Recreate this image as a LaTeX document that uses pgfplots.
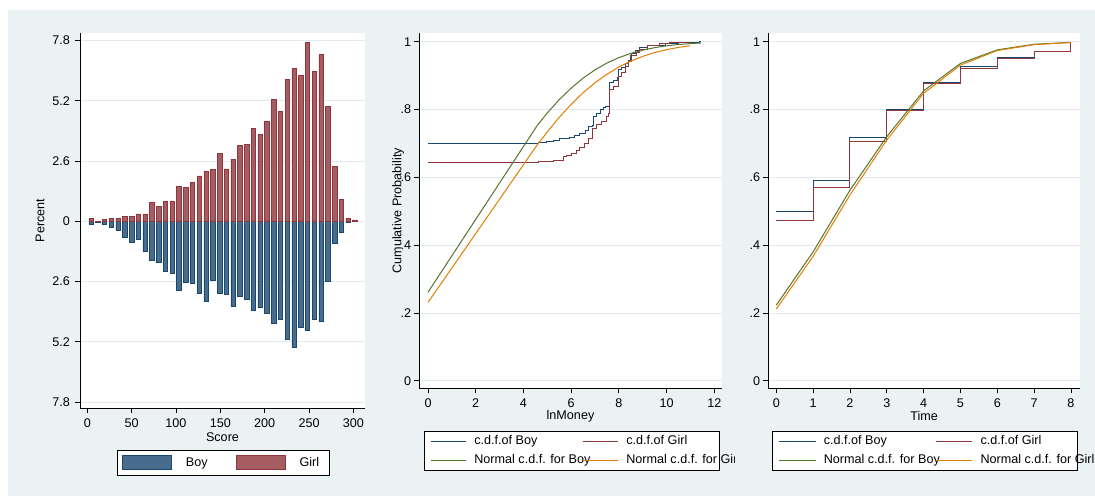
\documentclass[border=0pt]{standalone}
\usepackage{pgfplots}
\pgfplotsset{compat=1.18}
\usepackage{fontspec}
\setmainfont{Liberation Sans}
\definecolor{bgc}{RGB}{234,242,243}
\definecolor{gridc}{RGB}{226,234,237}
\definecolor{navy}{RGB}{26,71,111}
\definecolor{maroon}{RGB}{144,53,59}
\definecolor{fgreen}{RGB}{85,117,47}
\definecolor{dkorange}{RGB}{227,126,0}
\definecolor{boyfill}{RGB}{72,108,140}
\definecolor{girlfill}{RGB}{166,93,98}

\pgfplotsset{
 statastyle/.style={
  scale only axis, anchor=south west,
  font=\fontsize{12.6}{15}\selectfont,
  /pgf/number format/assume math mode=true,
  axis x line*=bottom, axis y line*=left,
  axis line style={-, black, line width=0.8pt},
  tick align=outside, major tick length=5pt,
  every tick/.style={black, line width=0.8pt},
  ymajorgrids, grid style={gridc, line width=0.8pt},
  axis background/.style={fill=white},
  xticklabel style={anchor=north, inner sep=0pt},
  yticklabel style={anchor=east, inner sep=0pt},
  legend cell align=left,
 }
}

\pgfplotstableread{
x girl boy
4.20 0.13 -0.12
11.83 0.02 -0.04
19.46 0.07 -0.14
27.09 0.12 -0.26
34.72 0.12 -0.40
42.35 0.20 -0.68
49.98 0.20 -0.89
57.61 0.32 -0.79
65.24 0.32 -1.28
72.87 0.81 -1.67
80.50 0.63 -1.78
88.13 0.85 -2.16
95.76 0.88 -2.24
103.39 1.53 -2.99
111.02 1.47 -2.62
118.65 1.67 -2.66
126.28 1.96 -3.12
133.91 2.16 -3.45
141.54 2.24 -2.55
149.17 2.94 -3.11
156.80 2.26 -3.15
164.43 2.68 -3.68
172.06 3.28 -3.24
179.69 3.31 -3.35
187.32 4.01 -3.86
194.95 3.74 -3.73
202.58 4.33 -3.97
210.21 5.28 -4.39
217.84 4.76 -4.24
225.47 6.12 -5.09
233.10 6.59 -5.42
240.73 6.30 -4.59
248.36 7.73 -4.72
255.99 6.46 -4.24
263.62 7.19 -4.33
271.25 4.95 -2.58
278.88 2.36 -0.96
286.51 0.94 -0.46
294.14 0.12 -0.05
301.77 0.06 0.00
}\scoredata

\begin{document}
\begin{tikzpicture}[x=1pt,y=1pt]
\useasboundingbox (0,0) rectangle (1095,496);
\fill[white] (0,0) rectangle (1095,496);
\fill[bgc] (8,0) rectangle (1095,486);

% ---------- Panel 1 ----------
\begin{axis}[statastyle,
  at={(80pt,88pt)}, width=285pt, height=375pt,
  xmin=-8.23, xmax=313.1, ymin=-8.06, ymax=8.13,
  xtick={0,50,...,300},
  ytick={-7.8,-5.2,-2.6,0,2.6,5.2,7.8},
  yticklabels={7.8,5.2,2.6,0,2.6,5.2,7.8},
  xticklabel shift=5.5pt, yticklabel shift=5pt,
  xlabel={Score}, ylabel={Percent},
  xlabel style={at={(axis description cs:0.5,-0.0773)}, anchor=center},
  ylabel style={at={(axis description cs:-0.1404,0.5)}, anchor=center},
  legend columns=2,
  legend image code/.code={\draw[#1] (0pt,-7pt) rectangle (49pt,7pt); \path (63pt,0pt);},
  legend style={at={(axis description cs:0.1298,-0.112)}, anchor=north west,
    draw=black, line width=0.8pt, inner xsep=5pt, inner ysep=5pt,
    column sep=0pt, nodes={inner sep=0pt}},
]
\addplot[ybar, bar width=5, bar shift=0pt, fill=boyfill, draw=navy, line width=0.6pt] table[x=x,y=boy] {\scoredata};
\addlegendentry{\makebox[50pt][l]{Boy}}
\addplot[ybar, bar width=5, bar shift=0pt, fill=girlfill, draw=maroon, line width=0.6pt] table[x=x,y=girl] {\scoredata};
\addlegendentry{\makebox[25pt][l]{Girl}}
\end{axis}

% ---------- Panel 2 ----------
\begin{scope}
\clip (0,0) rectangle (734,496);
\begin{axis}[statastyle,
  at={(419.3pt,107.7pt)}, width=302.4pt, height=355pt,
  xmin=-0.365, xmax=12.31, ymin=-0.0224, ymax=1.0248,
  xtick={0,2,...,12},
  ytick={0,0.2,0.4,0.6,0.8,1},
  yticklabels={0,.2,.4,.6,.8,1},
  xticklabel shift=5.5pt, yticklabel shift=3pt,
  xlabel={lnMoney}, ylabel={Cumulative Probability},
  xlabel style={at={(axis description cs:0.5,-0.080)}, anchor=center},
  ylabel style={at={(axis description cs:-0.0704,0.5)}, anchor=center},
  legend columns=2,
  legend image code/.code={\draw[#1, line width=1pt] (0pt,0pt) -- (35pt,0pt); \path (43pt,0pt);},
  legend style={at={(axis description cs:0.0155,-0.1194)}, anchor=north west,
    draw=black, line width=0.8pt, inner xsep=6pt, inner ysep=4pt,
    column sep=0pt, row sep=7pt, nodes={inner sep=0pt, text height=9pt, text depth=3pt}},
]
\addplot[const plot, navy, line width=1pt] coordinates {
(0,0.701) (4.62,0.704) (4.97,0.706) (5.25,0.708) (5.53,0.714) (5.95,0.718) (6.16,0.722)
(6.37,0.729) (6.58,0.739) (6.72,0.749) (6.89,0.754) (6.93,0.779) (7.07,0.789) (7.21,0.799)
(7.35,0.806) (7.45,0.810) (7.59,0.879) (7.77,0.887) (7.94,0.894) (7.98,0.917) (8.12,0.923)
(8.26,0.936) (8.40,0.946) (8.49,0.958) (8.54,0.966) (8.68,0.973) (8.88,0.983) (9.19,0.990)
(9.94,0.995) (10.5,0.997) (11.40,1.0) (11.44,1.0)};
\addlegendentry{\makebox[108pt][l]{c.d.f.of Boy}}
\addplot[const plot, maroon, line width=1pt] coordinates {
(0,0.645) (4.62,0.647) (5.25,0.651) (5.67,0.661) (5.81,0.663) (6.02,0.671) (6.23,0.679)
(6.37,0.689) (6.54,0.700) (6.72,0.715) (6.89,0.745) (7.07,0.756) (7.28,0.764) (7.49,0.779)
(7.55,0.787) (7.59,0.860) (7.77,0.867) (7.98,0.897) (8.12,0.909) (8.26,0.926) (8.40,0.941)
(8.54,0.958) (8.72,0.968) (8.88,0.977) (9.19,0.990) (9.72,0.995) (10.14,0.998) (10.98,1.0)};
\addlegendentry{\makebox[87pt][l]{c.d.f.of Girl}}
\addplot[fgreen, line width=1pt] coordinates {
(0,0.261) (4.56,0.751) (5,0.790) (5.5,0.829) (6,0.863) (6.5,0.8925) (7,0.917) (7.5,0.937)
(8,0.953) (8.5,0.9655) (9,0.975) (9.5,0.9825) (10,0.9879) (10.5,0.9918) (11,0.9945) (11.44,0.9962)};
\addlegendentry{\makebox[108pt][l]{Normal c.d.f. for Boy}}
\addplot[dkorange, line width=1pt] coordinates {
(0,0.231) (4.56,0.694) (5,0.734) (5.5,0.777) (6,0.815) (6.5,0.8497) (7,0.879) (7.5,0.904)
(8,0.9255) (8.5,0.9428) (9,0.9568) (9.5,0.968) (10,0.9765) (10.5,0.9832) (10.98,0.9879)};
\addlegendentry{\makebox[87pt][l]{Normal c.d.f. for Girl}}
\end{axis}
\end{scope}

% ---------- Panel 3 ----------
\begin{axis}[statastyle,
  at={(768.3pt,107.7pt)}, width=311.7pt, height=355pt,
  xmin=-0.217, xmax=8.245, ymin=-0.0224, ymax=1.0248,
  xtick={0,1,...,8},
  ytick={0,0.2,0.4,0.6,0.8,1},
  yticklabels={0,.2,.4,.6,.8,1},
  xticklabel shift=5.5pt, yticklabel shift=3pt,
  xlabel={Time},
  xlabel style={at={(axis description cs:0.5,-0.078)}, anchor=center},
  legend columns=2,
  legend image code/.code={\draw[#1, line width=1pt] (0pt,0pt) -- (36.7pt,0pt); \path (44.4pt,0pt);},
  legend style={at={(axis description cs:0.0119,-0.1194)}, anchor=north west,
    draw=black, line width=0.8pt, inner xsep=6pt, inner ysep=4pt,
    column sep=0pt, row sep=7pt, nodes={inner sep=0pt, text height=9pt, text depth=3pt}},
]
\addplot[const plot, navy, line width=1pt] coordinates {
(0,0.498) (1,0.592) (2,0.718) (3,0.799) (4,0.879) (5,0.926) (6,0.953) (7,0.971) (8,1.0)};
\addlegendentry{\makebox[111.3pt][l]{c.d.f.of Boy}}
\addplot[const plot, maroon, line width=1pt] coordinates {
(0,0.472) (1,0.570) (2,0.705) (3,0.797) (4,0.876) (5,0.921) (6,0.951) (7,0.970) (8,1.0)};
\addlegendentry{\makebox[90.4pt][l]{c.d.f.of Girl}}
\addplot[fgreen, line width=1pt] coordinates {
(0,0.223) (1,0.38) (2,0.562) (3,0.72) (4,0.855) (5,0.936) (6,0.976) (7,0.9925) (8,0.998)};
\addlegendentry{\makebox[111.3pt][l]{Normal c.d.f. for Boy}}
\addplot[dkorange, line width=1pt] coordinates {
(0,0.2115) (1,0.367) (2,0.548) (3,0.71) (4,0.848) (5,0.931) (6,0.974) (7,0.9914) (8,0.9977)};
\addlegendentry{\makebox[90.4pt][l]{Normal c.d.f. for Girl}}
\end{axis}
\end{tikzpicture}
\end{document}
